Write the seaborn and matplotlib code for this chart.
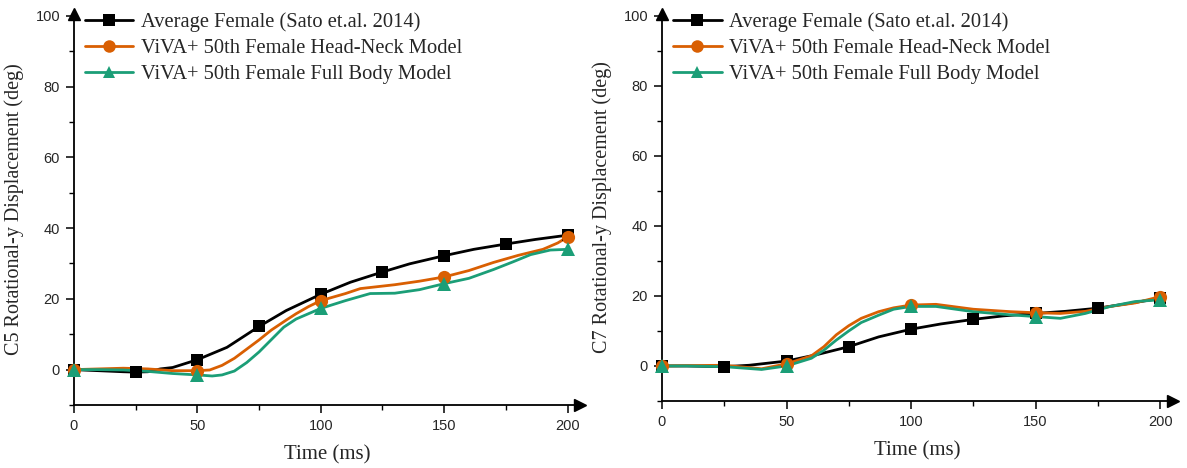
import numpy as np
import pandas as pd
import matplotlib
matplotlib.use("Agg")
import matplotlib.pyplot as plt
from matplotlib.lines import Line2D
import seaborn as sns

# ---- series ----
series_names = [
    "Average Female (Sato et.al. 2014)",
    "ViVA+ 50th Female Head-Neck Model",
    "ViVA+ 50th Female Full Body Model",
]
series_colors = ["#000000", "#D95F02", "#1B9E77"]
series_markers = ["s", "o", "^"]
marker_times = [
    [0, 25, 50, 75, 100, 125, 150, 175, 200],
    [0, 50, 100, 150, 200],
    [0, 50, 100, 150, 200],
]

# C5 rotation (deg)
c5_avg_t = [0, 10, 20, 25, 30, 35, 40, 50, 62, 75, 86, 100, 112, 125, 136, 150, 162, 175, 187, 200]
c5_avg_y = [0, -0.3, -0.6, -0.7, -0.6, 0.2, 0.6, 2.8, 6.3, 12.2, 16.7, 21.3, 24.7, 27.6, 29.9, 32.2, 34.0, 35.5, 36.8, 38.0]
c5_hn_t = [0, 10, 20, 30, 40, 50, 55, 60, 65, 70, 75, 80, 86, 90, 95, 100, 110, 116, 130, 140, 150, 160, 170, 180, 190, 196, 200]
c5_hn_y = [0, 0.2, 0.4, 0.2, -0.3, -0.3, -0.1, 1.2, 3.2, 5.8, 8.4, 11.2, 14.0, 15.8, 17.8, 19.5, 21.5, 22.9, 24.0, 25.0, 26.2, 28.0, 30.3, 32.3, 34.0, 35.8, 37.5]
c5_fb_t = [0, 10, 20, 30, 40, 50, 56, 60, 65, 70, 75, 80, 85, 90, 95, 100, 110, 120, 130, 140, 150, 160, 170, 178, 185, 193, 200]
c5_fb_y = [0, 0, -0.1, -0.5, -1.1, -1.5, -1.8, -1.5, -0.4, 2.0, 5.0, 8.5, 12.0, 14.3, 15.8, 17.3, 19.5, 21.5, 21.6, 22.6, 24.3, 25.8, 28.3, 30.5, 32.5, 33.8, 34.0]

# C7 rotation (deg)
c7_avg_t = [0, 10, 25, 35, 50, 62, 75, 87, 100, 112, 125, 137, 150, 162, 175, 187, 200]
c7_avg_y = [0, 0, -0.2, 0.2, 1.4, 3.2, 5.5, 8.3, 10.5, 12.0, 13.3, 14.3, 15.0, 15.6, 16.5, 17.8, 19.3]
c7_hn_t = [0, 10, 25, 40, 50, 60, 65, 70, 75, 80, 87, 93, 100, 110, 125, 140, 150, 160, 170, 180, 190, 200]
c7_hn_y = [0, 0.1, 0.2, -0.8, 0.6, 2.9, 5.5, 8.9, 11.5, 13.6, 15.5, 16.6, 17.4, 17.6, 16.2, 15.5, 15.2, 15.0, 15.6, 17.0, 18.0, 19.8]
c7_fb_t = [0, 10, 25, 40, 50, 60, 65, 70, 75, 80, 87, 93, 100, 110, 125, 140, 150, 160, 170, 180, 190, 200]
c7_fb_y = [0, 0, -0.2, -1.0, 0, 2.2, 4.5, 7.4, 10.0, 12.4, 14.5, 16.2, 17.0, 17.0, 15.5, 14.6, 14.1, 13.6, 15.0, 17.0, 18.4, 18.9]

panels = [
    ("C5 Rotational-y Displacement (deg)",
     [(c5_avg_t, c5_avg_y), (c5_hn_t, c5_hn_y), (c5_fb_t, c5_fb_y)]),
    ("C7 Rotational-y Displacement (deg)",
     [(c7_avg_t, c7_avg_y), (c7_hn_t, c7_hn_y), (c7_fb_t, c7_fb_y)]),
]

x_ticks = [0, 50, 100, 150, 200]
y_ticks = [0, 20, 40, 60, 80, 100]

sns.set_theme(style="ticks")
serif = ["Liberation Serif", "DejaVu Serif"]
sans = ["Liberation Sans", "DejaVu Sans"]
plt.rcParams["font.family"] = sans

fig = plt.figure(figsize=(11.87, 4.68), dpi=100)
axes_rects = [
    [0.0623, 0.1346, 0.4263, 0.8354],
    [0.5577, 0.1432, 0.4301, 0.8268],
]

for rect, (ylabel, curves) in zip(axes_rects, panels):
    ax = fig.add_axes(rect)
    for (t, y), name, color, mk, mt in zip(curves, series_names, series_colors,
                                           series_markers, marker_times):
        df = pd.DataFrame({"t": t, "y": y})
        sns.lineplot(data=df, x="t", y="y", color=color, linewidth=2.0,
                     ax=ax, zorder=3)
        pts = df[df["t"].isin(mt)]
        ax.plot(pts["t"], pts["y"], linestyle="none", marker=mk,
                color=color, markersize=9.5 if mk != "s" else 8.5,
                markeredgewidth=0, zorder=4, clip_on=False)

    ax.set_xlim(0, 205)
    ax.set_ylim(-10, 100.5)
    ax.set_xticks(x_ticks)
    ax.set_yticks(y_ticks)
    ax.set_xticks([25, 75, 125, 175], minor=True)
    ax.set_yticks([-10, 10, 30, 50, 70, 90], minor=True)
    ax.tick_params(axis="both", which="major", direction="out", length=6,
                   width=1.1, color="black", labelsize=10.5, pad=4)
    ax.tick_params(axis="both", which="minor", direction="out", length=3.5,
                   width=1.0, color="black")
    for lbl in ax.get_xticklabels() + ax.get_yticklabels():
        lbl.set_fontfamily(sans)
    sns.despine(ax=ax)
    for s in ("left", "bottom"):
        ax.spines[s].set_linewidth(1.3)
        ax.spines[s].set_color("black")

    # arrowheads at the ends of the axes
    ax.plot(1, 0, ">", color="black", markersize=8, transform=ax.transAxes,
            clip_on=False)
    ax.plot(0, 1, "^", color="black", markersize=8, transform=ax.transAxes,
            clip_on=False)

    ax.set_xlabel("Time (ms)", fontfamily=serif, fontsize=15, labelpad=9)
    ax.set_ylabel(ylabel, fontfamily=serif, fontsize=14.5, labelpad=8)

    handles = [
        Line2D([], [], color=c, marker=m, linewidth=2.0,
               markersize=9 if m != "s" else 8, markeredgewidth=0)
        for c, m in zip(series_colors, series_markers)
    ]
    ax.legend(handles, series_names, loc="upper left", frameon=False,
              prop={"family": serif, "size": 14.8}, handlelength=2.35,
              handletextpad=0.35, labelspacing=0.32, borderaxespad=0.0,
              borderpad=0.0, bbox_to_anchor=(0.022, 1.004))

fig.savefig("out.png", dpi=100)
